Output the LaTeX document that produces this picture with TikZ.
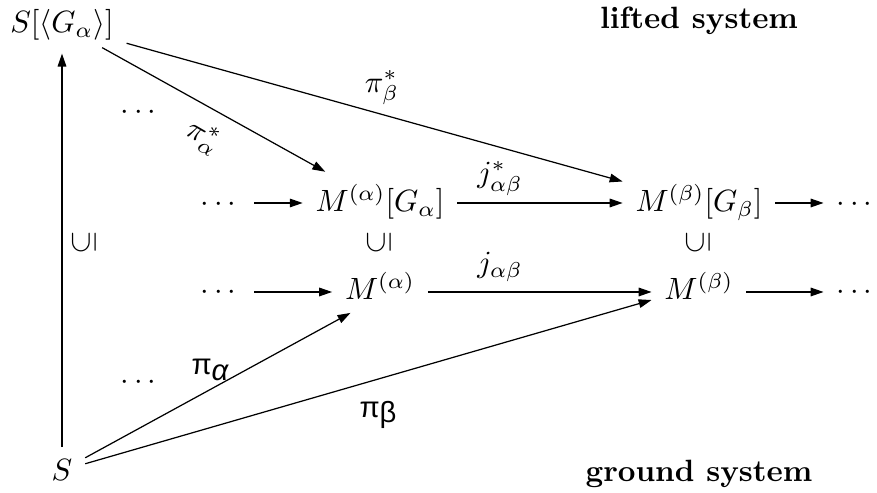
\documentclass[tikz,border=0pt]{standalone}
\usepackage{amsmath}
\usepackage{graphicx}
\usepackage{fontspec}
\usetikzlibrary{arrows.meta}
\newfontfamily\grsf{Liberation Sans}
\newcommand{\incl}{\rotatebox{90}{$\subseteq$}}
\begin{document}
\begin{tikzpicture}[x=0.325pt,y=-0.325pt,
  every node/.style={inner sep=4pt},
  arr/.style={-{Triangle[length=4.2pt,width=2.8pt]},line width=0.4pt},
  obj/.style={anchor=base},
  lab/.style={inner sep=1pt}]
\useasboundingbox (0,0) rectangle (877,493);
% objects
\node[obj] (SG) at (62,33) {$S[\langle G_\alpha\rangle]$};
\node[obj] (S) at (62,481) {$S$};
\node[obj] (ma1) at (380,212) {$M^{(\alpha)}[G_\alpha]$};
\node[obj] (mb1) at (699,212) {$M^{(\beta)}[G_\beta]$};
\node[obj] (ma2) at (380,300) {$M^{(\alpha)}$};
\node[obj] (mb2) at (699,300) {$M^{(\beta)}$};
\node[obj] (dl1) at (221,212) {$\cdots$};
\node[obj] (dr1) at (857,212) {$\cdots$};
\node[obj] (dl2) at (221,300) {$\cdots$};
\node[obj] (dr2) at (857,300) {$\cdots$};
\node (du) at (141,113) {$\cdots$};
\node (dd) at (141,383) {$\cdots$};
% row axes
\coordinate (r1) at (0,203);
\coordinate (r2) at (0,292);
% inclusions
\node (inc0) at (84,243) {\incl};
\node (inc1) at (379,243) {\incl};
\node (inc2) at (698,243) {\incl};
% horizontal arrows
\draw[arr] (dl1.east |- r1) -- (ma1.west |- r1);
\draw[arr] (ma1.east |- r1) -- (mb1.west |- r1);
\draw[arr] (mb1.east |- r1) -- (dr1.west |- r1);
\draw[arr] (dl2.east |- r2) -- (ma2.west |- r2);
\draw[arr] (ma2.east |- r2) -- (mb2.west |- r2);
\draw[arr] (mb2.east |- r2) -- (dr2.west |- r2);
% vertical
\draw[arr] (S) -- (SG);
% diagonals
\draw[arr,shorten <=-4pt] (SG) -- (ma1);
\draw[arr] (SG) -- (mb1);
\draw[arr] (S) -- (ma2.222);
\draw[arr] (S) -- (mb2);
% labels
\node[lab,anchor=base] (jst) at (500,183) {$j^*_{\alpha\beta}$};
\node[lab,anchor=base] (j) at (500,273) {$j_{\alpha\beta}$};
\node[lab,rotate=-30] (pas) at (203,137) {$\pi^*_\alpha$};
\node[lab] (pbs) at (382,88) {$\pi^*_\beta$};
\node[lab] (pa) at (210,370) {\grsf\fontsize{9.5}{11}\selectfont π\raisebox{-.35ex}{\itshape α}};
\node[lab] (pb) at (378,415) {\grsf\fontsize{9.5}{11}\selectfont π\raisebox{-.35ex}{β}};
% captions
\node[obj] (lift) at (699,29) {\textbf{lifted system}};
\node[obj] (ground) at (699,482) {\textbf{ground system}};
\end{tikzpicture}
\end{document}
